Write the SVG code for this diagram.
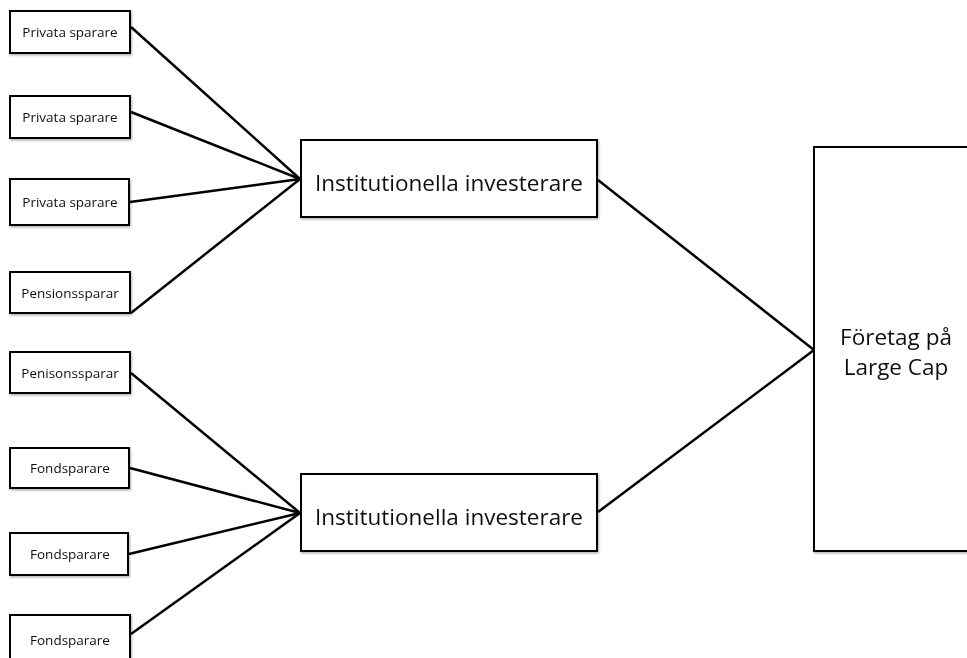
<svg xmlns="http://www.w3.org/2000/svg" width="967" height="658" viewBox="0 0 967 658">
<defs>
<filter id="sh" x="-10%" y="-10%" width="130%" height="140%">
<feDropShadow dx="1" dy="1.5" stdDeviation="1" flood-color="#000" flood-opacity="0.3"/>
</filter>
<style>
.box{fill:#fff;stroke:#000;stroke-width:2}
.s{font-family:"Open Sans","Noto Sans",sans-serif;font-size:13.5px;fill:#111;text-anchor:middle}
.b{font-family:"Open Sans","Noto Sans",sans-serif;font-size:22.5px;fill:#111;text-anchor:middle}
.ln{stroke:#000;stroke-width:2.5;fill:none}
</style>
</defs>
<rect width="967" height="658" fill="#fff"/>
<g id="connectors">
<line class="ln" x1="131" y1="27" x2="300" y2="179"/>
<line class="ln" x1="131" y1="112" x2="300" y2="179"/>
<line class="ln" x1="130" y1="202" x2="300" y2="179"/>
<line class="ln" x1="131" y1="313" x2="300" y2="179"/>
<line class="ln" x1="131" y1="373" x2="300" y2="513"/>
<line class="ln" x1="130" y1="468" x2="300" y2="513"/>
<line class="ln" x1="129" y1="554" x2="300" y2="513"/>
<line class="ln" x1="131" y1="634" x2="300" y2="513"/>
<line class="ln" x1="598" y1="180" x2="814" y2="350"/>
<line class="ln" x1="598" y1="512" x2="814" y2="350"/>
</g>
<g id="n1" filter="url(#sh)"><rect class="box" x="10" y="11" width="120" height="42"/><text class="s" x="70" y="37">Privata sparare</text></g>
<g id="n2" filter="url(#sh)"><rect class="box" x="10" y="96" width="120" height="42"/><text class="s" x="70" y="122">Privata sparare</text></g>
<g id="n3" filter="url(#sh)"><rect class="box" x="10" y="179" width="119" height="46"/><text class="s" x="70" y="207">Privata sparare</text></g>
<g id="n4" filter="url(#sh)"><rect class="box" x="10" y="272" width="120" height="41"/><text class="s" x="70" y="297.5">Pensionssparar</text></g>
<g id="n5" filter="url(#sh)"><rect class="box" x="10" y="352" width="120" height="41"/><text class="s" x="70" y="377.5">Penisonssparar</text></g>
<g id="n6" filter="url(#sh)"><rect class="box" x="10" y="448" width="119" height="40"/><text class="s" x="70" y="472.5">Fondsparare</text></g>
<g id="n7" filter="url(#sh)"><rect class="box" x="10" y="533" width="118" height="42"/><text class="s" x="70" y="559">Fondsparare</text></g>
<g id="n8" filter="url(#sh)"><rect class="box" x="10" y="615" width="120" height="48"/><text class="s" x="70" y="644.5">Fondsparare</text></g>
<g id="inst1" filter="url(#sh)"><rect class="box" x="301" y="140" width="296" height="77"/><text class="b" x="449" y="191">Institutionella investerare</text></g>
<g id="inst2" filter="url(#sh)"><rect class="box" x="301" y="474" width="296" height="77"/><text class="b" x="449" y="525">Institutionella investerare</text></g>
<g id="company" filter="url(#sh)"><rect class="box" x="814" y="147" width="160" height="404"/><text class="b" x="896" y="345">Företag på</text><text class="b" x="896" y="375">Large Cap</text></g>
</svg>
